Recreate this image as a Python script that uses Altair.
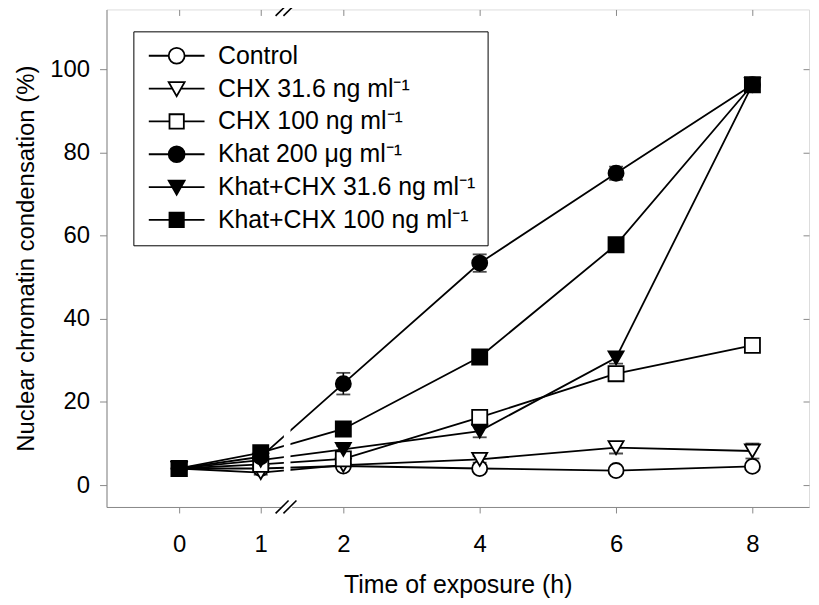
import altair as alt
import pandas as pd

# ---------------- data ----------------
times = [0, 1, 2, 4, 6, 8]
series_names = [
    "Control",
    "CHX 31.6 ng ml⁻¹",
    "CHX 100 ng ml⁻¹",
    "Khat 200 μg ml⁻¹",
    "Khat+CHX 31.6 ng ml⁻¹",
    "Khat+CHX 100 ng ml⁻¹",
]
control = [4.0, 4.0, 4.6, 4.0, 3.5, 4.5]
chx_316 = [4.0, 3.0, 4.8, 6.2, 9.0, 8.2]
chx_100 = [4.0, 5.0, 6.3, 16.3, 26.8, 33.6]
khat_200 = [4.0, 6.8, 24.4, 53.4, 75.0, 96.3]
khat_chx_316 = [4.0, 6.0, 8.6, 13.0, 30.6, 96.3]
khat_chx_100 = [4.0, 7.8, 13.5, 30.8, 57.8, 96.3]

control_err = [0.5, 0.5, 0.5, 0.5, 0.5, 0.5]
chx_316_err = [0.5, 0.5, 0.5, 0.8, 1.4, 1.8]
chx_100_err = [0.5, 0.5, 0.5, 0.8, 1.0, 1.0]
khat_200_err = [0.5, 0.8, 2.6, 2.1, 1.6, 1.0]
khat_chx_316_err = [0.5, 0.5, 0.8, 1.5, 1.4, 1.0]
khat_chx_100_err = [0.5, 0.5, 0.8, 0.8, 0.8, 1.0]

series_values = [control, chx_316, chx_100, khat_200, khat_chx_316, khat_chx_100]
series_errors = [control_err, chx_316_err, chx_100_err, khat_200_err, khat_chx_316_err, khat_chx_100_err]
series_shapes = ["circle", "triangle-down", "square", "circle", "triangle-down", "square"]
series_fills = ["white", "white", "white", "black", "black", "black"]

x_ticks = [0, 1, 2, 4, 6, 8]
y_ticks = [0, 20, 40, 60, 80, 100]

# axis break (in hours, between 1 and 2)
gap_x = [1.28, 1.36]
gap_y = [0, 22]
slash_x1 = [1.18, 1.275]
slash_x2 = [1.337, 1.432]

# ---------------- build tables ----------------
rows = []
for name, vals, errs, shp, fil in zip(series_names, series_values, series_errors, series_shapes, series_fills):
    for t, v, e in zip(times, vals, errs):
        rows.append({"time": t, "value": v, "lo": v - e, "hi": v + e,
                     "series": name, "shape": shp, "fill": fil})
df = pd.DataFrame(rows)

Y_MIN, Y_MAX = -5.26, 114.4
x_scale = alt.Scale(domain=[-0.89, 1, 2, 8.83], range=[0, 155, 238, 706], nice=False, zero=False)
y_scale = alt.Scale(domain=[Y_MIN, Y_MAX], nice=False, zero=False)

FONT = "Liberation Sans"

x_axis = alt.Axis(values=x_ticks, title="Time of exposure (h)", grid=False, tickSize=6,
                  labelPadding=20, titlePadding=16, domain=True,
                  labelFont=FONT, labelFontSize=24, titleFont=FONT, titleFontSize=25,
                  titleFontWeight="normal")
y_axis = alt.Axis(values=y_ticks, title="Nuclear chromatin condensation (%)", grid=False,
                  tickSize=7, labelPadding=10, titlePadding=11, domain=True,
                  labelFont=FONT, labelFontSize=24, titleFont=FONT, titleFontSize=24,
                  titleFontWeight="normal")

def xs(field, axis=None):
    return alt.X(field, scale=x_scale, axis=axis)

def ys(field, axis=None):
    return alt.Y(field, scale=y_scale, axis=axis)

base = alt.Chart(df)

err_rules = base.mark_rule(color="black", strokeWidth=1.6).encode(
    x=xs("time:Q"), y=ys("lo:Q"), y2="hi:Q", detail="series:N")
cap_lo = base.mark_tick(color="black", orient="horizontal", size=14, thickness=1.8).encode(
    x=xs("time:Q"), y=ys("lo:Q"))
cap_hi = base.mark_tick(color="black", orient="horizontal", size=14, thickness=1.8).encode(
    x=xs("time:Q"), y=ys("hi:Q"))

lines = base.mark_line(color="black", strokeWidth=1.8).encode(
    x=xs("time:Q", x_axis), y=ys("value:Q", y_axis), detail="series:N", order="time:Q")

gap_df = pd.DataFrame({"x": [gap_x[0]], "x2": [gap_x[1]], "y": [gap_y[0]], "y2": [gap_y[1]]})
gap = alt.Chart(gap_df).mark_rect(color="white").encode(
    x=xs("x:Q"), x2="x2:Q", y=ys("y:Q"), y2="y2:Q")

points = base.mark_point(filled=False, stroke="black", strokeWidth=1.8, opacity=1, size=230).encode(
    x=xs("time:Q"), y=ys("value:Q"),
    shape=alt.Shape("shape:N", scale=None),
    fill=alt.Fill("fill:N", scale=None),
)

# legend (custom symbols: line stubs + marker)
legend_paths = [
    "M-3.5,0L-1,0M1,0L3.5,0M-1,0A1,1,0,1,0,1,0A1,1,0,1,0,-1,0Z",
    "M-3.5,0L-0.55,0M0.55,0L3.5,0M-1,-0.8L1,-0.8L0,0.95Z",
    "M-3.5,0L-0.9,0M0.9,0L3.5,0M-0.9,-0.9L0.9,-0.9L0.9,0.9L-0.9,0.9Z",
    "M-3.5,0L3.5,0M-1,0A1,1,0,1,0,1,0A1,1,0,1,0,-1,0Z",
    "M-3.5,0L3.5,0M-1,-0.8L1,-0.8L0,0.95Z",
    "M-3.5,0L3.5,0M-0.9,-0.9L0.9,-0.9L0.9,0.9L-0.9,0.9Z",
]
leg = alt.Legend(title=None, orient="none", legendX=27, legendY=22,
                 strokeColor="black", fillColor="white", padding=12,
                 labelFont=FONT, labelFontSize=25, labelColor="black",
                 labelOffset=29, symbolOffset=19,
                 symbolSize=256, symbolStrokeColor="black", symbolStrokeWidth=1.8,
                 rowPadding=7, labelLimit=400)
legend_layer = base.transform_filter("datum.time < -5").mark_point(filled=False, stroke="black").encode(
    x=xs("time:Q"), y=ys("value:Q"),
    shape=alt.Shape("series:N", scale=alt.Scale(domain=series_names, range=legend_paths), legend=leg),
    fill=alt.Fill("series:N", scale=alt.Scale(domain=series_names, range=series_fills), legend=leg),
)

# mirrored top / right ticks (inward)
top_axis = alt.Axis(orient="top", values=x_ticks, labels=False, title=None, domain=False,
                    tickSize=6, offset=-6, grid=False)
right_axis = alt.Axis(orient="right", values=y_ticks, labels=False, title=None, domain=False,
                      tickSize=6, offset=-6, grid=False)
mirror = base.mark_line(opacity=0).encode(
    x=xs("time:Q", top_axis), y=ys("value:Q", right_axis), detail="series:N")

# break marks on bottom and top axes
erase_df = pd.DataFrame({"x": [1.25, 1.25], "x2": [1.38, 1.38], "y": [Y_MIN, Y_MAX]})
erase = alt.Chart(erase_df).mark_rule(color="white", strokeWidth=3).encode(
    x=xs("x:Q"), x2="x2:Q", y=ys("y:Q"))
srows = []
for yy in [Y_MIN, Y_MAX]:
    for a, b in zip(slash_x1, slash_x2):
        srows.append({"x": a, "x2": b, "y": yy - 1.55, "y2": yy + 1.55})
slashes = alt.Chart(pd.DataFrame(srows)).mark_rule(color="black", strokeWidth=1.6).encode(
    x=xs("x:Q"), x2="x2:Q", y=ys("y:Q"), y2="y2:Q")

chart = alt.layer(
    lines, mirror, err_rules, cap_lo, cap_hi, gap, points, legend_layer, erase, slashes
).resolve_axis(x="independent", y="independent").properties(
    width=706, height=500,
    autosize=alt.AutoSizeParams(type="none"),
    padding={"left": 99, "top": 0, "right": 2, "bottom": 90},
).configure_view(
    stroke="black", strokeWidth=1.6
).configure_axis(
    labelColor="black", titleColor="black",
    tickColor="black", domainColor="black", tickWidth=1.6, domainWidth=1.6,
).configure(background="white")

chart.save("out.html", embed_options={"renderer": "svg", "actions": False})
